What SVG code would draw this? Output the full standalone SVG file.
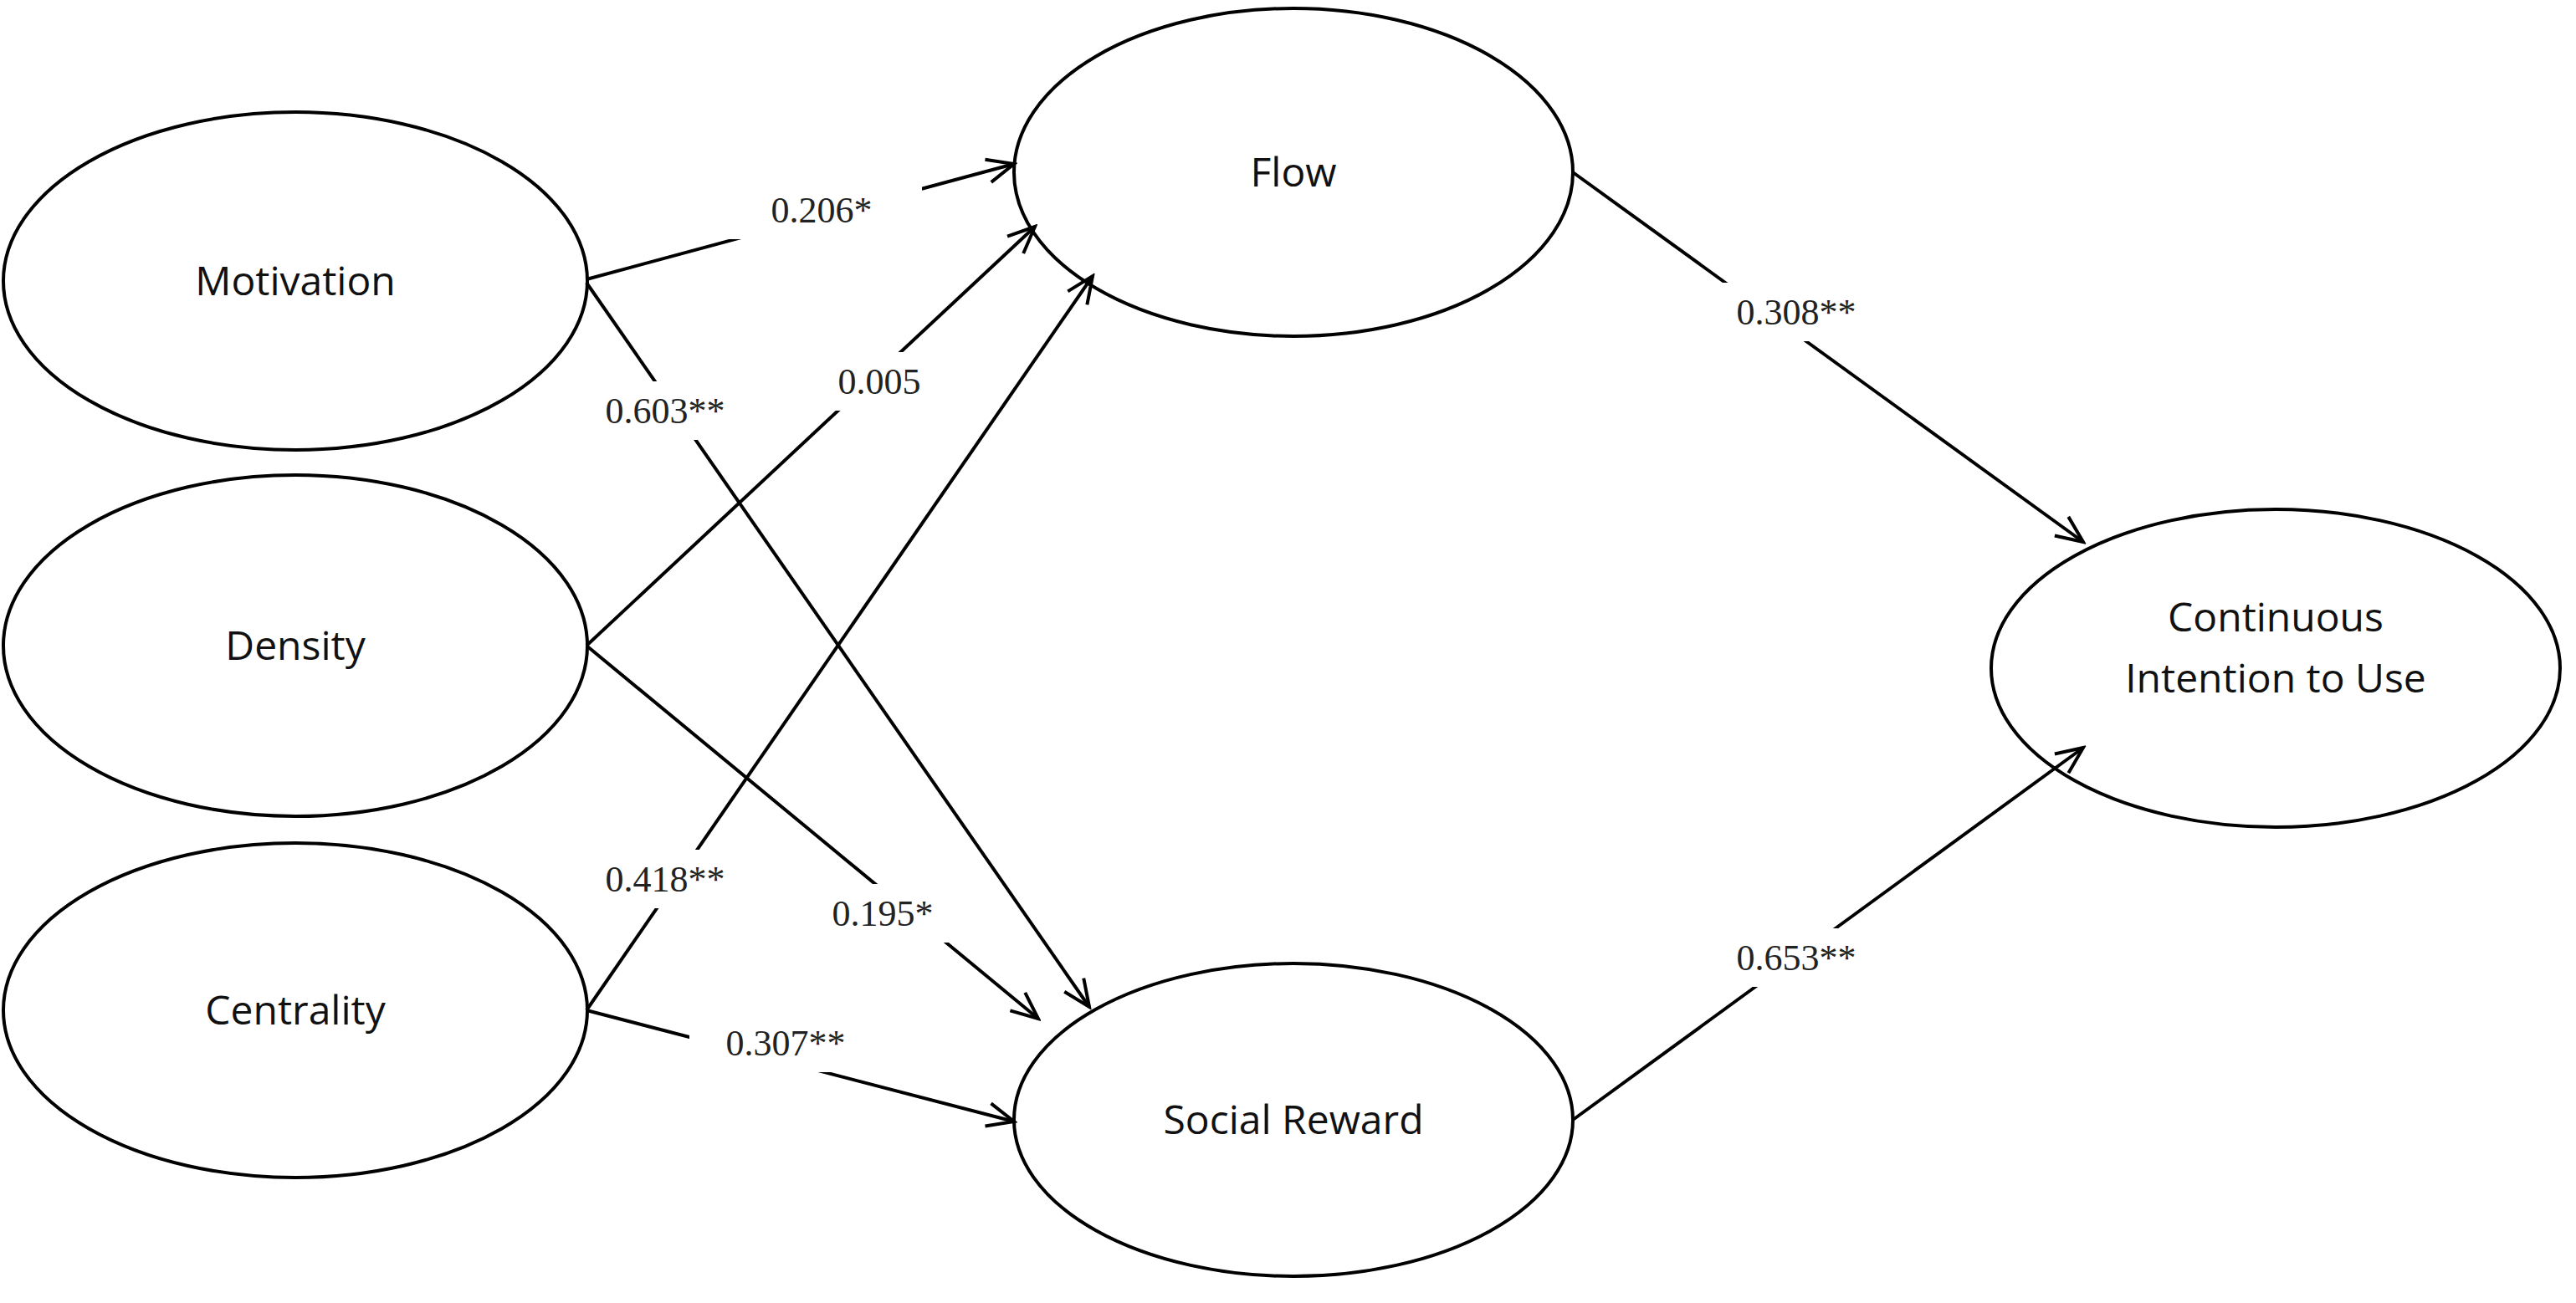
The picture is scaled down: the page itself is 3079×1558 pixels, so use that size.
<svg xmlns="http://www.w3.org/2000/svg" width="3079" height="1558" viewBox="0 0 3079 1558">
<style>
.n ellipse{fill:#fff;stroke:#000;stroke-width:4}
.n text{font-family:"Open Sans","Liberation Sans",sans-serif;font-size:48px;text-anchor:middle;fill:#111}
.e line{stroke:#000;stroke-width:4}
.l rect{fill:#fff}
.l text{font-family:"Liberation Serif",serif;font-size:44px;text-anchor:middle;fill:#222}
</style>
<defs><marker id="a" markerUnits="userSpaceOnUse" markerWidth="40" markerHeight="40" refX="36" refY="20" orient="auto"><path d="M4,6 L36,20 L4,34" fill="none" stroke="#000" stroke-width="4"/></marker></defs>
<rect width="3079" height="1558" fill="#fff"/>
<g class="n" id="motivation"><ellipse cx="353" cy="336" rx="349" ry="202"/><text x="353" y="353">Motivation</text></g>
<g class="n" id="density"><ellipse cx="353" cy="772" rx="349" ry="204"/><text x="353" y="789">Density</text></g>
<g class="n" id="centrality"><ellipse cx="353" cy="1208" rx="349" ry="200"/><text x="353" y="1225">Centrality</text></g>
<g class="n" id="flow"><ellipse cx="1546" cy="206" rx="334" ry="196"/><text x="1546" y="223">Flow</text></g>
<g class="n" id="social-reward"><ellipse cx="1546" cy="1339" rx="334" ry="187"/><text x="1546" y="1356">Social Reward</text></g>
<g class="n" id="continuous"><ellipse cx="2720" cy="799" rx="340" ry="190"/><text x="2720" y="755">Continuous</text><text x="2720" y="828">Intention to Use</text></g>
<g class="e" id="connectors">
<line x1="701" y1="334" x2="1212" y2="196" marker-end="url(#a)"/>
<line x1="701" y1="338" x2="1302" y2="1204" marker-end="url(#a)"/>
<line x1="701" y1="772" x2="1237" y2="271" marker-end="url(#a)"/>
<line x1="701" y1="772" x2="1241" y2="1218" marker-end="url(#a)"/>
<line x1="701" y1="1208" x2="1306" y2="330" marker-end="url(#a)"/>
<line x1="701" y1="1208" x2="1212" y2="1341" marker-end="url(#a)"/>
<line x1="1880" y1="206" x2="2490" y2="648" marker-end="url(#a)"/>
<line x1="1880" y1="1339" x2="2490" y2="894" marker-end="url(#a)"/>
</g>
<g class="l" id="labels">
<rect x="862" y="216" width="240" height="70"/><text x="982" y="266">0.206*</text>
<rect x="680" y="456" width="230" height="70"/><text x="795" y="506">0.603**</text>
<rect x="950" y="421" width="202" height="70"/><text x="1051" y="471">0.005</text>
<rect x="945" y="1057" width="220" height="70"/><text x="1055" y="1107">0.195*</text>
<rect x="680" y="1016" width="230" height="70"/><text x="795" y="1066">0.418**</text>
<rect x="824" y="1212" width="230" height="70"/><text x="939" y="1262">0.307**</text>
<rect x="2032" y="338" width="230" height="70"/><text x="2147" y="388">0.308**</text>
<rect x="2032" y="1110" width="230" height="70"/><text x="2147" y="1160">0.653**</text>
</g>
</svg>
